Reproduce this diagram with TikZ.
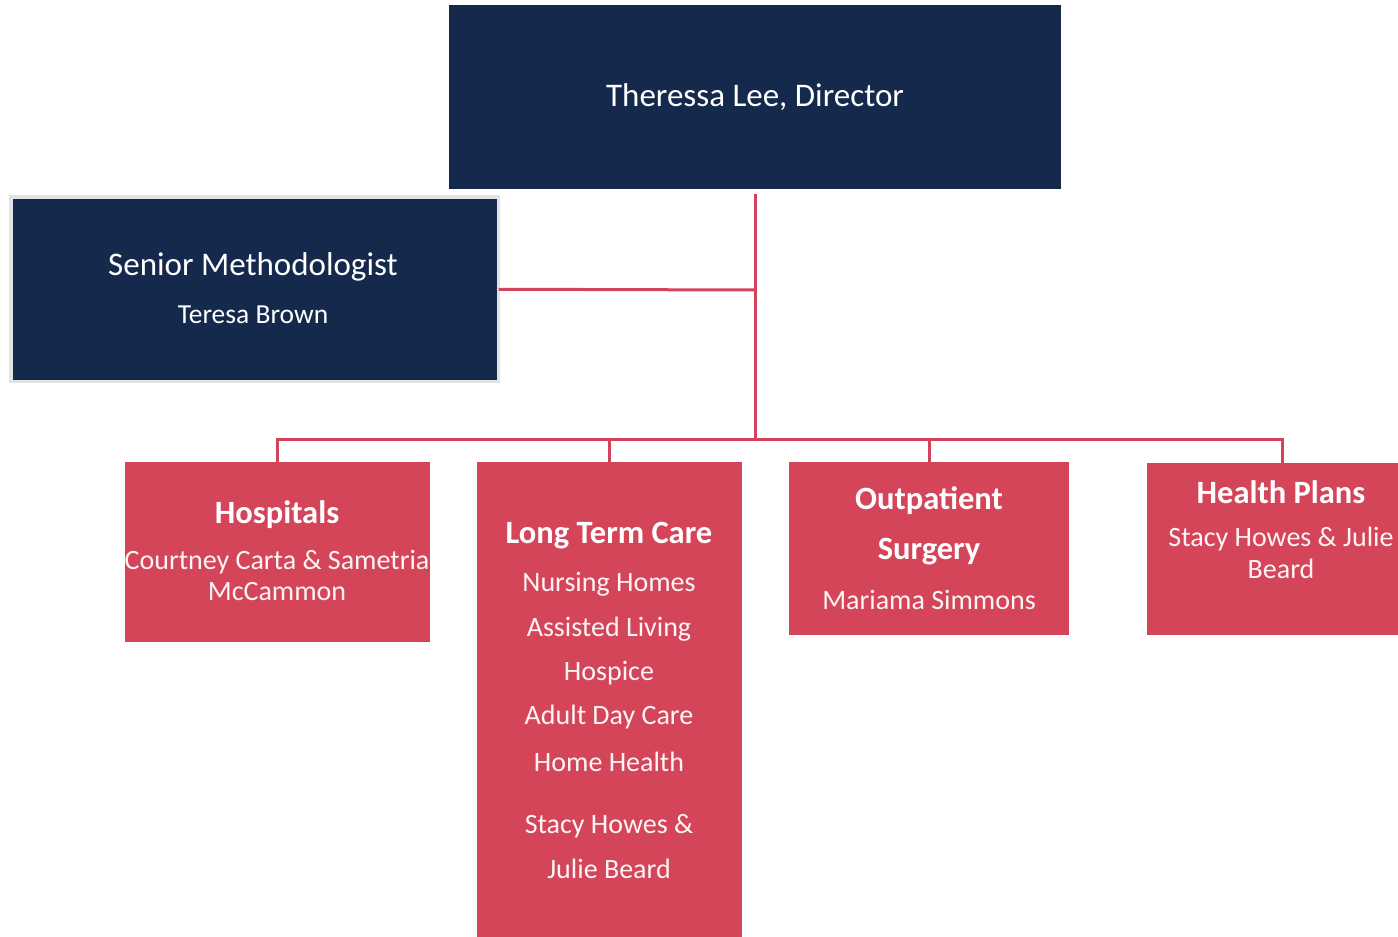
\documentclass[tikz,border=0pt]{standalone}
\usepackage{fontspec}
\setmainfont{Carlito}
\definecolor{navy}{HTML}{14294B}
\definecolor{crim}{HTML}{D5455A}
\definecolor{linec}{HTML}{D3425A}
\definecolor{bord}{HTML}{E2E2E2}
\begin{document}
\begin{tikzpicture}[x=1pt,y=-1pt,
  navybox/.style={fill=navy,draw=none,inner sep=0,outer sep=0},
  redbox/.style={fill=crim,draw=none,inner sep=0,outer sep=0},
  bigtxt/.style={text=white,inner sep=0,yshift=-2pt,font=\fontsize{33}{40}\selectfont},
  subtxt/.style={text=white,inner sep=0,yshift=-2pt,font=\fontsize{27.5}{33}\selectfont},
  headtxt/.style={text=white,inner sep=0,yshift=-2pt,font=\fontsize{32.5}{39}\selectfont\bfseries},
  bodytxt/.style={text=white!94!crim,inner sep=0,yshift=-2pt,font=\fontsize{28}{33}\selectfont},
  conn/.style={draw=linec,line width=3pt}]
\useasboundingbox (0,0) rectangle (1398,937);
% boxes
\node[navybox,minimum width=612,minimum height=184] (dir) at (755,97) {};
\node[navybox,draw=bord,line width=3.5pt,minimum width=487.5,minimum height=184.5] (sen) at (254.75,289.25) {};
\node[redbox,minimum width=305,minimum height=180] (hos) at (277.5,552) {};
\node[redbox,minimum width=265,minimum height=476] (ltc) at (609.5,700) {};
\node[redbox,minimum width=280,minimum height=173] (out) at (929,548.5) {};
\node[redbox,minimum width=252,minimum height=172] (hp) at (1273,549) {};
% texts
\node[bigtxt] (t1) at (755,95) {Theressa Lee, Director};
\node[bigtxt] (t2) at (253,265) {Senior Methodologist};
\node[subtxt] (t3) at (253,313) {Teresa Brown};
\node[headtxt] (h1) at (277,513) {Hospitals};
\node[bodytxt] (h2) at (277,560) {Courtney Carta \& Sametria};
\node[bodytxt] (h3) at (277,590) {McCammon};
\node[headtxt] (l1) at (609,534) {Long Term Care};
\node[bodytxt] (l2) at (609,582) {Nursing Homes};
\node[bodytxt] (l3) at (609,627) {Assisted Living};
\node[bodytxt] (l4) at (609,671) {Hospice};
\node[bodytxt] (l5) at (609,715) {Adult Day Care};
\node[bodytxt] (l6) at (609,760) {Home Health};
\node[bodytxt] (l7) at (609,824) {Stacy Howes \&};
\node[bodytxt] (l8) at (609,867) {Julie Beard};
\node[headtxt] (o1) at (929,499) {Outpatient};
\node[headtxt] (o2) at (929,550) {Surgery};
\node[bodytxt] (o3) at (929,598) {Mariama Simmons};
\node[headtxt] (p1) at (1281,490) {Health Plans};
\node[bodytxt] (p2) at (1281,537) {Stacy Howes \& Julie};
\node[bodytxt] (p3) at (1281,567) {Beard};
% connectors
\coordinate (bus) at (755,440);
\coordinate (senj) at (755,290);
\coordinate (bl) at (277,439);
\coordinate (br) at (1282,439);
\draw[conn] ([yshift=-5pt]dir.south) -- (bus);
\draw[conn] (sen.east) -- (senj);
\draw[conn] (hos.north) |- (br) -- (hp.north -| br);
\draw[conn] (ltc.north) -- (ltc.north |- bl);
\draw[conn] (out.north) -- (out.north |- bl);
\end{tikzpicture}
\end{document}
